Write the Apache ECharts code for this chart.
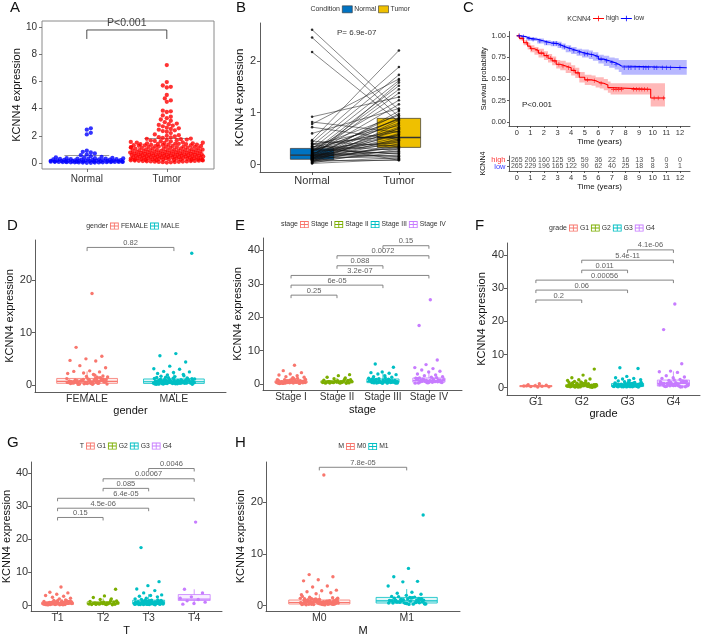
<!DOCTYPE html>
<html><head><meta charset="utf-8">
<script src="https://cdn.jsdelivr.net/npm/echarts@6/dist/echarts.min.js"></script>
<style>html,body{margin:0;padding:0;background:#fff}#c{width:701px;height:637px}</style>
</head><body><div id="c"></div>
<script>
// ================= DATA =================
// Panel A
const catA = ['Normal', 'Tumor'];
const aNormal = [2.55,2.45,2.22,2.1,0.9,0.82,0.78,0.7,0.62,0.58,0.5,0.45,0.42,0.4,0.38,0.36,0.35,0.34,0.33,0.32,0.3,0.3,0.29,0.28,0.27,0.26,0.25,0.24,0.23,0.22,0.21,0.2,0.2,0.19,0.18,0.18,0.17,0.16,0.16,0.15,0.15,0.14,0.14,0.13,0.13,0.12,0.12,0.11,0.11,0.1,0.1,0.1,0.09,0.09,0.08,0.08,0.08,0.07,0.07,0.06,0.06,0.05,0.05,0.05,0.04,0.04,0.03,0.03,0.02,0.02,0.12,0.14];
const aTumorTop = [7.2,5.95,5.7,5.6,5.55,5.0,4.75,4.6,4.5,3.85,3.8,3.75,3.5,3.4,3.3,3.2,3.1,3.0,2.9,2.85,2.8,2.75,2.7,2.6,2.55,2.5,2.45,2.4,2.35,2.3,2.2,2.1,2.05,2.0,1.95,1.9,1.88,1.85,1.8,1.78,1.75,1.72,1.7,1.68,1.65,1.62,1.6,1.58,1.55,1.52];
const aTumorBulk = [0.52,0.18,0.87,1.21,0.34,0.66,1.45,0.09,0.73,0.41,1.02,0.27,0.95,0.58,1.33,0.14,0.81,0.47,1.12,0.36,
0.69,1.38,0.22,0.55,0.91,0.05,1.27,0.62,0.39,0.84,1.49,0.3,0.77,0.12,1.07,0.45,0.99,0.25,0.6,1.18,
0.71,0.33,1.41,0.16,0.89,0.5,1.24,0.07,0.79,0.43,1.14,0.28,0.64,1.31,0.2,0.57,0.93,0.38,1.04,0.68,
0.11,1.36,0.48,0.82,0.24,1.2,0.61,0.35,0.97,1.47,0.15,0.75,0.42,1.09,0.29,0.86,0.54,1.29,0.06,0.7,
0.37,1.16,0.23,0.63,1.43,0.46,0.9,0.13,1.01,0.56,0.32,1.25,0.78,0.19,1.11,0.44,0.67,1.39,0.26,0.85,
0.51,0.08,1.22,0.74,0.4,0.96,1.34,0.17,0.59,0.31,1.06,0.83,0.21,1.44,0.49,0.72,0.1,1.17,0.65,0.36,
0.92,1.3,0.27,0.53,0.88,0.14,1.08,0.6,0.44,1.4,0.76,0.03,1.19,0.57,0.34,0.98,0.22,1.26,0.69,0.47,
1.5,0.8,0.12,1.13,0.39,0.64,1.35,0.25,0.94,0.55];
const aSdTop = [0.6, 1.85];
const aBracket = [0, 1, 9.78, 'P<0.001'];

// Panel B (paired)
const catB = ['Normal', 'Tumor'];
const bNormal = [2.6,2.45,2.17,0.92,0.82,0.78,0.72,0.6,0.47,0.45,0.42,0.4,0.38,0.36,0.35,0.33,0.32,0.3,0.29,0.28,0.27,0.26,0.25,0.24,0.23,0.22,0.21,0.2,0.2,0.19,0.18,0.18,0.17,0.16,0.15,0.15,0.14,0.13,0.13,0.12,0.12,0.11,0.1,0.1,0.09,0.09,0.08,0.08,0.07,0.06,0.05,0.05,0.04,0.03,0.02,0.11,0.14,0.16,0.19,0.22,0.26,0.3,0.34,0.4];
const bTumor = [1.05,0.92,0.82,1.3,0.62,1.65,0.48,1.08,2.2,0.35,1.88,0.55,0.75,1.73,0.28,0.95,0.42,1.62,0.2,0.68,1.24,0.38,0.88,1.52,0.15,0.58,1.45,0.31,0.8,1.16,0.25,0.65,1.38,0.46,0.12,0.98,0.53,1.58,0.33,0.72,0.18,1.03,0.44,0.6,0.09,0.85,0.36,0.5,0.23,0.78,0.4,0.13,0.7,0.3,0.1,0.9,0.26,0.57,0.16,0.47,0.87,0.21,0.64,0.08];
const bBox = [[0.10,0.10,0.18,0.31,0.31],[0.33,0.33,0.52,0.89,0.89]]; // lo,q1,med,q3,hi
const bPText = 'P= 6.9e-07';

// Panel C (survival)
const highT = [0,0.2,0.5,0.8,1.0,1.3,1.6,2.0,2.3,2.6,2.9,3.2,3.6,4.0,4.3,4.6,5.0,5.5,5.8,6.1,6.4,6.7,6.9,9.85,10.9];
const highS = [1.0,0.97,0.92,0.88,0.85,0.83,0.80,0.77,0.74,0.71,0.67,0.65,0.63,0.60,0.57,0.52,0.49,0.48,0.46,0.45,0.43,0.40,0.38,0.28,0.28];
const highL = [1.0,0.95,0.89,0.84,0.81,0.78,0.75,0.72,0.69,0.66,0.62,0.60,0.57,0.54,0.51,0.46,0.43,0.42,0.40,0.39,0.37,0.34,0.32,0.18,0.18];
const highU = [1.0,0.99,0.95,0.92,0.89,0.87,0.85,0.82,0.79,0.76,0.72,0.71,0.69,0.66,0.63,0.58,0.55,0.54,0.52,0.52,0.50,0.47,0.45,0.45,0.45];
const highCens = [0.15,0.4,0.7,1.1,1.5,1.8,2.2,2.5,2.8,3.1,3.4,3.8,4.2,4.5,5.2,5.7,6.2,7.1,7.3,7.5,7.7,8.6,8.8,9.0,9.2,9.4,9.6,10.1,10.4,10.8];
const lowT = [0,0.3,0.7,1.0,1.5,2.0,2.5,3.0,3.3,3.6,4.0,4.4,4.8,5.3,5.6,6.0,6.4,6.8,7.2,7.5,7.7,12.5];
const lowS = [1.0,0.99,0.97,0.96,0.94,0.92,0.91,0.89,0.87,0.85,0.83,0.81,0.79,0.78,0.76,0.73,0.71,0.69,0.67,0.65,0.63,0.63];
const lowL = [1.0,0.98,0.95,0.94,0.91,0.89,0.88,0.86,0.84,0.81,0.79,0.77,0.75,0.73,0.71,0.68,0.65,0.63,0.61,0.58,0.55,0.55];
const lowU = [1.0,1.0,0.99,0.98,0.97,0.95,0.94,0.93,0.91,0.89,0.87,0.85,0.84,0.83,0.81,0.78,0.77,0.75,0.74,0.72,0.72,0.72];
const lowCens = [0.2,0.5,0.9,1.2,1.7,2.2,2.7,2.9,3.2,3.5,3.9,4.2,4.6,5.0,5.2,5.5,5.9,6.2,6.6,7.0,7.3,7.9,8.2,8.4,8.7,9.0,9.3,9.5,9.7,10.1,10.3,10.7,11.0,11.3,12.0];
const riskYears = [0,1,2,3,4,5,6,7,8,9,10,11,12];
const riskGroups = ['high','low'];
const riskHigh = [265,206,160,125,95,59,36,22,16,13,5,0,0];
const riskLow = [265,229,196,165,122,90,62,40,25,18,8,3,1];
const cPText = 'P<0.001';

// Panel D (gender)
const catD = ['FEMALE','MALE'];
const dFemale = [17.5,7.2,5.5,5.0,4.7,4.6,3.7,3.3,2.7,2.6,2.5,2.3,2.2,2.0,
0.42,1.12,0.27,0.65,1.48,0.83,0.19,0.56,0.94,1.31,0.38,0.71,1.86,0.24,0.61,1.05,0.47,0.33,0.79,1.22,0.15,0.58,0.91,1.63,0.29,0.52,0.74,1.01,0.36,0.68,1.39,0.22,0.49,0.87,0.11,0.63,1.17,0.44,0.31,0.77,1.55,0.26,0.54,0.97,0.4,0.72,1.27,0.18,0.59,0.85,0.35,0.66,1.08,0.5,0.28,0.81,1.71,0.45,0.6,0.93];
const dMale = [25.2,6.0,5.6,4.4,3.6,3.1,3.0,2.6,2.5,2.4,2.2,2.0,1.9,
0.51,0.23,0.88,1.34,0.41,0.67,1.02,0.3,0.57,1.6,0.19,0.74,0.46,1.15,0.35,0.62,0.95,0.27,1.42,0.53,0.8,0.14,0.69,1.08,0.39,0.58,1.25,0.32,0.76,0.47,0.99,0.21,1.78,0.64,0.43,0.86,0.29,1.19,0.55,0.72,0.37,1.5,0.6,0.25,0.92,0.48,1.05,0.34,0.7,0.17,0.83,1.3,0.44,0.61,0.28,0.97,0.52,1.66,0.4,0.78,0.2,0.66,1.12,0.36,0.56,0.89,0.31,1.38,0.45,0.73,0.26,1.01,0.59,0.12,0.82,0.5,1.22,0.38,0.68,0.94];
const dBox = [[0.05,0.32,0.68,1.25,2.6],[0.05,0.3,0.62,1.15,2.4]];
const dBrackets = [[0,1,26.3,'0.82']];

// Panel E (stage)
const catE = ['Stage I','Stage II','Stage III','Stage IV'];
const eS1 = [5.6,4.0,3.4,3.0,2.7,2.5,2.2,2.0,1.9,0.41,0.22,0.86,1.3,0.55,0.33,0.71,1.12,0.27,0.62,0.95,0.45,1.58,0.18,0.68,0.38,1.04,0.52,0.29,0.8,1.42,0.6,0.24,0.9,0.47,1.2,0.35,0.74,0.57,0.15,1.68,0.43,0.84,0.31,0.66,1.0,0.5,0.26,0.77,1.25,0.39,0.58,0.2,0.93,0.46,1.36,0.63,0.3,0.7,1.1];
const eS2 = [2.8,2.5,2.0,1.8,1.6,0.44,0.72,0.3,1.05,0.58,0.25,0.9,0.5,1.3,0.36,0.66,0.2,0.82,1.15,0.47,0.61,0.33,0.98,0.55,1.42,0.4,0.76,0.28,0.69,0.52];
const eS3 = [6.0,5.0,3.6,3.4,3.2,3.0,2.8,2.5,2.2,2.0,0.5,0.92,0.31,1.38,0.67,1.1,0.42,0.8,1.6,0.25,0.73,1.22,0.56,0.35,0.98,1.45,0.62,0.28,0.87,1.3,0.47,0.7,1.75,0.39,1.02,0.58,0.2,0.84,1.17,0.45,0.65,1.9,0.33,0.95,0.53,1.26,0.76,0.3,1.05,0.6,1.52,0.41,0.88,0.7,1.14];
const eS4 = [25.2,17.5,7.2,5.8,4.9,4.6,4.2,3.8,3.6,3.0,2.7,2.5,2.2,2.0,0.6,1.2,0.4,1.7,0.85,1.45,0.55,1.0,0.3,1.9,0.75,1.3,0.5,1.1,0.95,0.35,1.55,0.7,1.25,0.45,0.9,1.8,0.65,1.05,0.25,1.4,0.8,1.15,0.5,1.6];
const eBox = [[0.05,0.3,0.55,0.95,1.9],[0.1,0.35,0.6,0.95,1.8],[0.05,0.4,0.75,1.5,3.1],[0.1,0.55,1.0,1.8,3.6]];
const eBrackets = [[0,1,26.6,'0.25'],[0,2,29.6,'6e-05'],[0,3,32.5,'3.2e-07'],[1,2,35.4,'0.088'],[1,3,38.4,'0.0072'],[2,3,41.4,'0.15']];

// Panel F (grade)
const catF = ['G1','G2','G3','G4'];
const fG1 = [1.2,0.9,0.75,0.6,0.5,0.42,0.35,0.25,0.2,0.55];
const fG2 = [5.6,3.8,3.0,2.6,2.4,2.2,2.0,1.9,0.45,0.82,0.28,1.2,0.6,0.37,0.95,1.5,0.22,0.7,0.5,1.05,0.33,0.78,1.35,0.41,0.65,0.18,0.9,1.12,0.55,0.3,1.7,0.74,0.47,0.99,0.26,0.62,1.28,0.39,0.86,0.52,1.02,0.2,0.68,1.44,0.43,0.58,0.31,0.93,1.18,0.49,0.76,0.24,1.6,0.57,0.35,0.88,0.64,1.08,0.27,0.8,0.46,1.25,0.53,0.15,0.72,0.97,0.4,1.38];
const fG3 = [6.0,5.8,3.4,3.0,2.8,2.6,2.4,2.2,2.0,0.52,0.9,0.34,1.3,0.66,1.05,0.43,0.77,1.55,0.26,0.7,1.18,0.58,0.37,0.96,1.42,0.61,0.29,0.84,1.25,0.48,0.73,1.8,0.4,1.0,0.56,0.22,0.82,1.12,0.46,0.64,1.65,0.32,0.92,0.5,1.22,0.75,0.28,1.08,0.6,1.48,0.42,0.87,0.68,1.15,0.36,0.55,0.98,0.24,0.79,1.35,0.45,0.62,1.02,0.3];
const fG4 = [25.2,17.5,7.2,5.0,4.8,4.6,3.6,3.2,3.0,2.8,2.5,2.2,0.7,1.5,0.4,2.0,1.0,1.8,0.55,1.3,0.3,2.3,0.85,1.6,0.6,1.15,0.95,0.35,1.7,0.75,1.4,0.5,1.05,1.9,0.65,1.25,0.25,1.55,0.9,1.2,0.45,1.85,0.8,1.1,0.2,1.35,0.6];
const fBox = [[0.2,0.3,0.45,0.65,1.2],[0.05,0.3,0.55,0.9,1.8],[0.05,0.35,0.7,1.25,2.6],[0.1,0.5,1.3,2.3,4.9]];
const fBrackets = [[0,1,26.4,'0.2'],[0,2,29.4,'0.06'],[0,3,32.4,'0.00056'],[1,2,35.4,'0.011'],[1,3,38.4,'5.4e-11'],[2,3,41.5,'4.1e-06']];

// Panel G (T)
const catG = ['T1','T2','T3','T4'];
const legG = ['G1','G2','G3','G4'];
const gT1 = [5.6,4.0,3.8,3.4,3.0,2.8,2.5,2.2,2.0,0.48,0.85,0.31,1.22,0.63,0.4,0.97,1.48,0.25,0.72,0.53,1.08,0.36,0.8,1.33,0.44,0.67,0.2,0.92,1.15,0.58,0.33,1.65,0.76,0.5,1.02,0.28,0.65,1.26,0.42,0.88,0.55,1.05,0.23,0.7,1.4,0.46,0.6,0.34,0.95,1.2,0.52,0.78,0.27,1.55,0.59,0.38,0.9,0.66,1.1,0.3,0.83,0.49,1.3,0.56,0.17,0.74,1.0,0.43,1.36];
const gT2 = [4.9,2.9,2.4,2.0,1.8,0.42,0.75,0.32,1.1,0.6,0.27,0.93,0.52,1.35,0.38,0.7,0.22,0.85,1.2,0.49,0.63,0.35,1.0,0.57,1.5,0.44,0.8,0.3,0.67,0.55];
const gT3 = [17.5,7.2,6.0,5.0,4.5,3.8,3.2,3.0,2.8,2.6,2.2,2.0,0.55,0.95,0.36,1.4,0.7,1.1,0.45,0.82,1.62,0.28,0.74,1.25,0.6,0.4,1.0,1.5,0.64,0.31,0.88,1.32,0.5,0.77,1.85,0.43,1.05,0.58,0.24,0.86,1.18,0.48,0.67,1.7,0.34,0.97,0.53,1.28,0.79,0.3,1.12,0.62,1.55,0.44,0.9,0.71,1.2,0.38,0.57,1.02,0.26,0.83,1.42,0.47,0.65,1.07,0.33];
const gT4 = [25.2,4.9,3.8,2.6,2.2,1.8,1.4,1.0,0.6,0.4];
const gBox = [[0.05,0.3,0.6,1.0,2.0],[0.1,0.35,0.6,1.1,2.1],[0.05,0.4,0.8,1.6,3.4],[0.4,1.5,1.9,3.3,4.9]];
const gBrackets = [[0,1,26.6,'0.15'],[0,2,29.4,'4.5e-06'],[0,3,32.4,'6.4e-05'],[1,2,35.4,'0.085'],[1,3,38.3,'0.00067'],[2,3,41.4,'0.0046']];

// Panel H (M)
const catH = ['M0','M1'];
const hM0 = [25.2,6.0,5.6,5.0,4.8,3.8,3.6,3.0,2.9,2.7,2.5,2.3,2.1,
0.47,0.84,0.3,1.2,0.61,0.39,0.96,1.46,0.24,0.71,0.52,1.07,0.35,0.79,1.32,0.43,0.66,0.19,0.91,1.14,0.57,0.32,1.64,0.75,0.49,1.01,0.27,0.64,1.25,0.41,0.87,0.54,1.04,0.22,0.69,1.39,0.45,0.59,0.33,0.94,1.19,0.51,0.77,0.26,1.54,0.58,0.37,0.89,0.65,1.09,0.29,0.82,0.48,1.29,0.55,0.16,0.73,0.99,0.42,1.35,0.62,0.21,0.86,0.44,1.16,0.34,0.7,1.8,0.5,0.28,0.93,0.6,1.03,0.38,0.81,1.42,0.46,0.67,0.25,1.12];
const hM1 = [17.5,7.2,5.6,4.7,4.6,3.8,2.6,2.4,2.2,2.0,1.8,0.6,1.2,0.4,1.6,0.85,1.4,0.55,1.0,0.3,1.75,0.75,1.3,0.5,1.1,0.95,0.35,1.5,0.7,1.25,0.45,0.9,1.65,0.65,1.05,0.25,1.45,0.8,1.15,0.5,1.55,0.72,1.35,0.42,0.98,0.6,1.2,0.33,0.88,1.08,0.56];
const hBox = [[0.05,0.33,0.62,1.1,2.2],[0.1,0.52,0.95,1.6,3.2]];
const hBrackets = [[0,1,26.7,'7.8e-05']];

// ================= BUILD =================
const FONT = 'Liberation Sans';
const SAL='#F8766D', GRN='#7CAE00', TEA='#00BFC4', PUR='#C77CFF';
const grid=[], xAxis=[], yAxis=[], series=[], legend=[], graphic=[];
function frac(x){return x-Math.floor(x);}
function rgba(hex,a){const n=parseInt(hex.slice(1),16);return 'rgba('+((n>>16)&255)+','+((n>>8)&255)+','+(n&255)+','+a+')';}
function addGrid(g){grid.push(Object.assign({containLabel:false},g));return grid.length-1;}
function axis(gi,min,max,ticks,fmt,o){
  return {type:'value',gridIndex:gi,min:min,max:max,splitLine:{show:false},
    axisLine:{show:o.line!==false,onZero:false,lineStyle:{color:o.color||'#333',width:o.lw||0.8}},
    axisTick:{show:true,customValues:ticks,length:o.tickLen||3,lineStyle:{color:o.color||'#333',width:o.lw||0.8}},
    axisLabel:{show:o.labels!==false,customValues:ticks,formatter:fmt,fontSize:o.fs||10,color:o.lc||'#444',margin:o.margin||3,fontFamily:FONT},
    name:o.name||'',nameLocation:'middle',nameGap:o.gap||15,
    nameTextStyle:{fontSize:o.nfs||11,color:'#111',fontFamily:FONT}};
}
function text(x,y,t,size,o){
  o=o||{};
  graphic.push({type:'text',x:x,y:y,rotation:o.rot||0,silent:true,
    style:{text:t,fontSize:size,fontFamily:FONT,fill:o.fill||'#111',align:o.align||'left',verticalAlign:'middle'}});
}
function boxRender(half,stroke,fill,lw,medW){
  return function(params,api){
    const x=api.value(0);
    const lo=api.coord([x,api.value(1)]), q1=api.coord([x,api.value(2)]), md=api.coord([x,api.value(3)]),
          q3=api.coord([x,api.value(4)]), hi=api.coord([x,api.value(5)]);
    const hw=api.size([half,0])[0], cx=lo[0];
    return {type:'group',children:[
      {type:'line',shape:{x1:cx,y1:lo[1],x2:cx,y2:q1[1]},style:{stroke:stroke,lineWidth:lw}},
      {type:'line',shape:{x1:cx,y1:q3[1],x2:cx,y2:hi[1]},style:{stroke:stroke,lineWidth:lw}},
      {type:'rect',shape:{x:cx-hw,y:q3[1],width:2*hw,height:q1[1]-q3[1]},style:{fill:fill,stroke:stroke,lineWidth:lw}},
      {type:'line',shape:{x1:cx-hw,y1:md[1],x2:cx+hw,y2:md[1]},style:{stroke:stroke,lineWidth:medW}}
    ]};
  };
}
function swarm(vals,pxX,pxY,d,maxHalf){
  const order=vals.map((v,i)=>i).sort((a,b)=>vals[a]-vals[b]);
  const placed=[], offs=new Array(vals.length); let k=0;
  for(const i of order){
    const y=vals[i]*pxY;
    const near=placed.filter(p=>Math.abs(p[1]-y)<d);
    let best=null;
    for(let s=0; s*d*0.5<=maxHalf && best===null; s++){
      for(const sg of (s===0?[1]:[1,-1])){
        const x=sg*s*d*0.5;
        if(near.every(p=>(p[0]-x)*(p[0]-x)+(p[1]-y)*(p[1]-y)>=d*d*0.85)){best=x;break;}
      }
    }
    if(best===null){best=(frac((k+1)*0.618034)-0.5)*2*maxHalf;}
    k++;
    placed.push([best,y]); offs[i]=best/pxX;
  }
  return offs;
}
const BOXICON='path://M0,0L10,0L10,8L0,8Z M1,1L1,7L9,7L9,1Z M1,3.5L9,3.5L9,4.5L1,4.5Z M4.5,0L5.5,0L5.5,8L4.5,8Z';
const CROSSICON='path://M0,4.5L14,4.5L14,5.5L0,5.5Z M6.5,1.5L7.5,1.5L7.5,8.5L6.5,8.5Z';
const legBase={orient:'horizontal',padding:0,itemGap:2,itemWidth:9,itemHeight:7,selectedMode:false,
  textStyle:{fontSize:6.8,color:'#333',fontFamily:FONT,padding:[0,0,0,-3]}};

// ---------- Panel A ----------
(function(){
  const L=42,T=21,W=172,H=148,xmin=-0.56,xmax=1.59,ymin=-0.44,ymax=10.44;
  grid.push({left:L,top:T,width:W,height:H,show:true,borderColor:'#8a8a8a',borderWidth:1,containLabel:false});
  const gi=grid.length-1;
  xAxis.push(axis(gi,xmin,xmax,[0,1],v=>catA[Math.round(v)],{line:false,color:'#555',fs:10,margin:5,lc:'#333'}));
  yAxis.push(axis(gi,ymin,ymax,[0,2,4,6,8,10],v=>String(v),{line:false,color:'#555',fs:10,margin:5,lc:'#333',name:'KCNN4 expression',gap:20,nfs:11}));
  const pxX=W/(xmax-xmin), pxY=H/(ymax-ymin);
  const offN=swarm(aNormal,pxX,pxY,4,37);
  const tum=aTumorTop.concat(aTumorBulk);
  const offT=swarm(tum,pxX,pxY,4,37);
  series.push({type:'lines',coordinateSystem:'cartesian2d',xAxisIndex:gi,yAxisIndex:gi,polyline:false,silent:true,z:1,
    lineStyle:{color:'#999',width:1,opacity:1},
    data:aSdTop.map((v,k)=>({coords:[[k-0.28,v],[k+0.28,v]]}))});
  series.push({type:'scatter',name:'A-Normal',xAxisIndex:gi,yAxisIndex:gi,silent:true,z:3,symbolSize:4.3,
    itemStyle:{color:'#0000FF'},data:aNormal.map((v,i)=>[offN[i],v])});
  series.push({type:'scatter',name:'A-Tumor',xAxisIndex:gi,yAxisIndex:gi,silent:true,z:3,symbolSize:4.3,
    itemStyle:{color:'#FF0000'},data:tum.map((v,i)=>[1+offT[i],v])});
  const b=aBracket;
  series.push({type:'lines',coordinateSystem:'cartesian2d',xAxisIndex:gi,yAxisIndex:gi,polyline:true,silent:true,z:4,
    lineStyle:{color:'#222',width:0.8,opacity:1},data:[{coords:[[b[0],b[2]-0.66],[b[0],b[2]],[b[1],b[2]],[b[1],b[2]-0.66]]}]});
  series.push({type:'scatter',xAxisIndex:gi,yAxisIndex:gi,silent:true,z:5,symbolSize:1,itemStyle:{color:'rgba(0,0,0,0)'},
    data:[[(b[0]+b[1])/2,b[2],b[3]]],label:{show:true,position:'top',distance:1,formatter:q=>q.data[2],fontSize:10.5,color:'#111',fontFamily:FONT}});
  text(10,8,'A',15);
})();

// ---------- Panel B ----------
(function(){
  const gi=addGrid({left:260,top:23,width:191,height:149});
  xAxis.push(axis(gi,-0.6,1.6,[0,1],v=>catB[Math.round(v)],{fs:11,margin:3,lc:'#333'}));
  yAxis.push(axis(gi,-0.145,2.73,[0,1,2],v=>String(v),{fs:11,margin:4,lc:'#333',name:'KCNN4 expression',gap:12,nfs:11.5}));
  const cols=['#0073C2','#EFC000'];
  catB.forEach((c,k)=>{
    series.push({type:'custom',name:c,xAxisIndex:gi,yAxisIndex:gi,silent:true,z:1,itemStyle:{color:cols[k]},
      renderItem:boxRender(0.25,'#333',cols[k],0.7,1.4),data:[[k].concat(bBox[k])]});
  });
  series.push({type:'lines',coordinateSystem:'cartesian2d',xAxisIndex:gi,yAxisIndex:gi,silent:true,z:2,
    lineStyle:{color:'#111',width:0.6,opacity:0.85},
    data:bNormal.map((v,i)=>({coords:[[0,v],[1,bTumor[i]]]}))});
  const pts=[]; bNormal.forEach((v,i)=>{pts.push([0,v]);pts.push([1,bTumor[i]]);});
  series.push({type:'scatter',xAxisIndex:gi,yAxisIndex:gi,silent:true,z:3,symbolSize:2.6,itemStyle:{color:'#000'},data:pts});
  legend.push(Object.assign({},legBase,{left:342,top:5.5,itemWidth:10,itemHeight:7,
    data:catB.map((c,k)=>({name:c,icon:'rect',itemStyle:{color:cols[k],borderColor:'#333',borderWidth:0.6}}))}));
  text(340,9,'Condition',7,{align:'right',fill:'#333'});
  text(337,33,bPText,8,{fill:'#333'});
  text(236,8,'B',15);
})();

// ---------- Panel C ----------
(function(){
  const xmin=-0.57,xmax=12.74;
  const gi=addGrid({left:509,top:31.5,width:181,height:94.5});
  xAxis.push(axis(gi,xmin,xmax,riskYears,v=>String(v),{fs:7.5,margin:3,lc:'#333',name:'Time (years)',gap:11,nfs:8,tickLen:2}));
  yAxis.push(axis(gi,-0.045,1.05,[0,0.25,0.5,0.75,1],v=>v.toFixed(2),{fs:7.5,margin:3,lc:'#333',name:'Survival probability',gap:18,nfs:7.5,tickLen:2}));
  function band(T,Lo,Up,fill){
    return {type:'custom',xAxisIndex:gi,yAxisIndex:gi,silent:true,z:1,data:[[0,0]],
      renderItem:function(params,api){
        const n=T.length, pts=[];
        for(let i=0;i<n;i++){pts.push(api.coord([T[i],Up[i]])); if(i<n-1) pts.push(api.coord([T[i+1],Up[i]]));}
        for(let i=n-1;i>=0;i--){if(i<n-1) pts.push(api.coord([T[i+1],Lo[i]])); pts.push(api.coord([T[i],Lo[i]]));}
        return {type:'polygon',shape:{points:pts},style:{fill:fill}};
      }};
  }
  series.push(band(highT,highL,highU,'rgba(255,0,0,0.28)'));
  series.push(band(lowT,lowL,lowU,'rgba(0,0,255,0.28)'));
  function survAt(T,S,t){let s=S[0];for(let i=0;i<T.length;i++){if(T[i]<=t)s=S[i];}return s;}
  [['high',highT,highS,highCens,'#FF0000'],['low',lowT,lowS,lowCens,'#0000FF']].forEach(g=>{
    series.push({type:'line',name:g[0],xAxisIndex:gi,yAxisIndex:gi,step:'end',showSymbol:false,silent:true,z:3,
      lineStyle:{color:g[4],width:1.1},itemStyle:{color:g[4]},data:g[1].map((t,i)=>[t,g[2][i]])});
    series.push({type:'scatter',xAxisIndex:gi,yAxisIndex:gi,silent:true,z:4,symbol:'path://M0,4.3L10,4.3L10,5.7L0,5.7Z M4.3,0L5.7,0L5.7,10L4.3,10Z',
      symbolSize:4.5,itemStyle:{color:g[4]},data:g[3].map(t=>[t,survAt(g[1],g[2],t)])});
  });
  legend.push(Object.assign({},legBase,{left:593,top:15,itemWidth:11,itemHeight:8,
    data:[{name:'high',icon:CROSSICON,itemStyle:{color:'#FF0000'}},{name:'low',icon:CROSSICON,itemStyle:{color:'#0000FF'}}]}));
  text(591,19,'KCNN4',7,{align:'right',fill:'#333'});
  text(522,105,cPText,8,{fill:'#222'});
  text(463,8,'C',15);
  // risk table
  const gt=addGrid({left:509,top:156,width:181,height:15});
  const rowY=[0.73,0.3];
  xAxis.push(axis(gt,xmin,xmax,riskYears,v=>String(v),{fs:7.5,margin:3,lc:'#333',name:'Time (years)',gap:8,nfs:8,tickLen:2}));
  yAxis.push(axis(gt,0,1,rowY,v=>'',{labels:false,tickLen:2,name:'KCNN4',gap:22,nfs:7}));
  const cells=[]; riskYears.forEach((t,i)=>{cells.push([t,rowY[0],String(riskHigh[i])]);cells.push([t,rowY[1],String(riskLow[i])]);});
  series.push({type:'scatter',xAxisIndex:gt,yAxisIndex:gt,silent:true,symbolSize:1,itemStyle:{color:'rgba(0,0,0,0)'},data:cells,
    label:{show:true,position:'inside',formatter:q=>q.data[2],fontSize:7,color:'#222',fontFamily:FONT}});
  const rcol=['#FF0000','#0000FF'];
  riskGroups.forEach((g,k)=>{
    series.push({type:'scatter',xAxisIndex:gt,yAxisIndex:gt,silent:true,symbolSize:1,itemStyle:{color:'rgba(0,0,0,0)'},
      data:[[xmin,rowY[k],g]],
      label:{show:true,position:'left',distance:3,formatter:q=>q.data[2],fontSize:7.5,color:rcol[k],fontFamily:FONT}});
  });
})();

// ---------- generic group panel (D-H) ----------
function groupPanel(p){
  const gi=addGrid({left:p.left,top:p.top,width:p.width,height:p.height});
  xAxis.push(axis(gi,p.xmin,p.xmax,p.cats.map((c,i)=>i),v=>p.cats[Math.round(v)],{name:p.xname,gap:p.xgap,fs:p.xfs,margin:2,lc:'#333',nfs:11}));
  yAxis.push(axis(gi,p.ymin,p.ymax,p.yticks,v=>String(v),{name:'KCNN4 expression',gap:p.ygap,fs:11,margin:3,lc:'#333',nfs:11}));
  p.groups.forEach((vals,k)=>{
    const col=p.colors[k];
    series.push({type:'custom',xAxisIndex:gi,yAxisIndex:gi,silent:true,z:1,
      renderItem:boxRender(0.35,col,rgba(col,0.12),0.8,1.2),data:[[k].concat(p.boxes[k])]});
    series.push({type:'scatter',name:p.names[k],xAxisIndex:gi,yAxisIndex:gi,silent:true,z:3,symbolSize:3.4,
      itemStyle:{color:col,opacity:1},
      data:vals.map((v,i)=>[k+(frac((i+1)*0.618034+k*0.31)-0.5)*2*p.jit,v])});
  });
  series.push({type:'lines',coordinateSystem:'cartesian2d',xAxisIndex:gi,yAxisIndex:gi,polyline:true,silent:true,z:4,
    lineStyle:{color:'#777',width:0.9,opacity:1},
    data:p.brackets.map(b=>({coords:[[b[0],b[2]-p.tick],[b[0],b[2]],[b[1],b[2]],[b[1],b[2]-p.tick]]}))});
  series.push({type:'scatter',xAxisIndex:gi,yAxisIndex:gi,silent:true,z:5,symbolSize:1,itemStyle:{color:'rgba(0,0,0,0)'},
    data:p.brackets.map(b=>[(b[0]+b[1])/2,b[2],b[3]]),
    label:{show:true,position:'top',distance:0,formatter:q=>q.data[2],fontSize:7.5,color:'#333',fontFamily:FONT}});
  legend.push(Object.assign({},legBase,{left:p.legLeft,top:p.legTop,
    data:p.names.map((n,k)=>({name:n,icon:BOXICON,itemStyle:{color:p.colors[k]}}))}));
  text(p.legLeft-2,p.legTop+3.5,p.legTitle,7,{align:'right',fill:'#333'});
  text(p.letterX,p.letterY,p.letter,15);
}

groupPanel({letter:'D',letterX:7,letterY:226,left:35,top:240,width:191,height:152,xmin:-0.6,xmax:1.6,ymin:-1.34,ymax:27.72,
  yticks:[0,10,20],cats:catD,names:catD,groups:[dFemale,dMale],boxes:dBox,colors:[SAL,TEA],jit:0.24,
  brackets:dBrackets,tick:0.7,xname:'gender',xgap:13.5,ygap:17.5,xfs:10.5,legLeft:110,legTop:222.5,legTitle:'gender'});
groupPanel({letter:'E',letterX:235,letterY:226,left:263,top:238,width:199,height:152,xmin:-0.61,xmax:3.72,ymin:-1.8,ymax:43.71,
  yticks:[0,10,20,30,40],cats:catE,names:catE,groups:[eS1,eS2,eS3,eS4],boxes:eBox,colors:[SAL,GRN,TEA,PUR],jit:0.32,
  brackets:eBrackets,tick:0.9,xname:'stage',xgap:14.5,ygap:17,xfs:10,legLeft:300,legTop:221,legTitle:'stage'});
groupPanel({letter:'F',letterX:475,letterY:226,left:507,top:243,width:193,height:152,xmin:-0.63,xmax:3.58,ymin:-2.2,ymax:43.58,
  yticks:[0,10,20,30,40],cats:catF,names:catF,groups:[fG1,fG2,fG3,fG4],boxes:fBox,colors:[SAL,GRN,TEA,PUR],jit:0.32,
  brackets:fBrackets,tick:0.9,xname:'grade',xgap:12.5,ygap:16,xfs:10.5,legLeft:569,legTop:224.5,legTitle:'grade'});
groupPanel({letter:'G',letterX:7,letterY:442.5,left:28,top:462,width:194,height:151,xmin:-0.58,xmax:3.61,ymin:-1.7,ymax:43.37,
  yticks:[0,10,20,30,40],cats:catG,names:legG,groups:[gT1,gT2,gT3,gT4],boxes:gBox,colors:[SAL,GRN,TEA,PUR],jit:0.32,
  brackets:gBrackets,tick:0.9,xname:'T',xgap:12.5,ygap:17,xfs:10.5,legLeft:86,legTop:442.5,legTitle:'T'});
groupPanel({letter:'H',letterX:235,letterY:442.5,left:266,top:462,width:194,height:150,xmin:-0.61,xmax:1.61,ymin:-1.02,ymax:27.72,
  yticks:[0,10,20],cats:catH,names:catH,groups:[hM0,hM1],boxes:hBox,colors:[SAL,TEA],jit:0.22,
  brackets:hBrackets,tick:0.6,xname:'M',xgap:14,ygap:16.5,xfs:10.5,legLeft:346,legTop:443,legTitle:'M'});

const chart=echarts.init(document.getElementById('c'),null,{renderer:'canvas',width:701,height:637});
chart.setOption({animation:false,backgroundColor:'#fff',textStyle:{fontFamily:FONT},
  grid:grid,xAxis:xAxis,yAxis:yAxis,series:series,legend:legend,graphic:graphic});
</script></body></html>
